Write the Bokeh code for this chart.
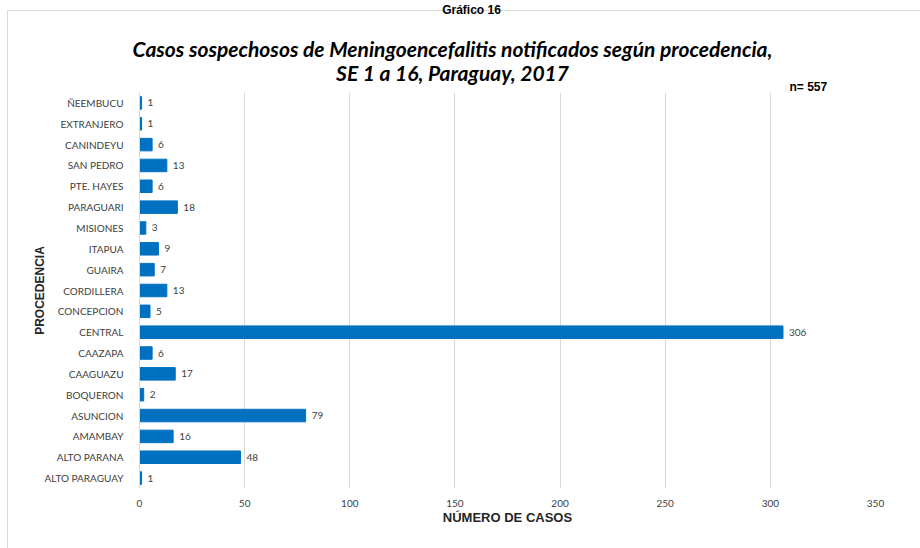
from bokeh.plotting import figure
from bokeh.layouts import column
from bokeh.models import (ColumnDataSource, Label, LabelSet, FactorRange, Range1d, FixedTicker)
from bokeh.core.properties import value
from bokeh.embed import file_html
from bokeh.resources import INLINE

# data (bottom to top)
procedencia = ["ALTO PARAGUAY", "ALTO PARANA", "AMAMBAY", "ASUNCION", "BOQUERON",
               "CAAGUAZU", "CAAZAPA", "CENTRAL", "CONCEPCION", "CORDILLERA", "GUAIRA",
               "ITAPUA", "MISIONES", "PARAGUARI", "PTE. HAYES", "SAN PEDRO", "CANINDEYU",
               "EXTRANJERO", "ÑEEMBUCU"]
casos = [1, 48, 16, 79, 2, 17, 6, 306, 5, 13, 7, 9, 3, 18, 6, 13, 6, 1, 1]
x_ticks = [0, 50, 100, 150, 200, 250, 300, 350]
titulo_1 = "Casos sospechosos de Meningoencefalitis notificados según procedencia,"
titulo_2 = "SE 1 a 16, Paraguay, 2017"
total = "n= 557"

W = 920
HT = 92          # header height
HM = 548 - HT    # main chart height

# ---------- header (titles) ----------
h = figure(width=W, height=HT, output_backend="svg", toolbar_location=None, title=None,
           x_range=Range1d(0, W), y_range=Range1d(HT, 0),
           x_axis_location=None, y_axis_location=None,
           min_border=0, min_border_left=0, min_border_right=0,
           min_border_top=0, min_border_bottom=0)
h.frame_align = False
h.outline_line_color = None
h.background_fill_color = None
h.border_fill_color = None
h.grid.visible = False

tf = dict(text_font="Lato", text_font_style="bold italic", text_font_size="21px",
          text_color="#000000", text_align="center", text_baseline="middle")
h.add_layout(Label(x=452, y=48, text=titulo_1, **tf))
h.add_layout(Label(x=452, y=72, text=titulo_2, **tf))
h.add_layout(Label(x=789, y=86, text=total, text_font="Liberation Sans",
                   text_font_style="bold", text_font_size="12px",
                   text_baseline="middle", text_color="#000000"))
h.add_layout(Label(x=471, y=9, text="Gráfico 16", text_font="Liberation Sans",
                   text_font_style="bold", text_font_size="12px", text_align="center",
                   text_baseline="alphabetic", text_color="#000000"))

# ---------- main chart ----------
src = ColumnDataSource(dict(cat=procedencia, val=casos, lab=[str(v) for v in casos]))

p = figure(width=W, height=HM, output_backend="svg", toolbar_location=None, title=None,
           y_range=FactorRange(*procedencia), x_range=Range1d(0, 350),
           min_border_left=139, min_border_right=45, min_border_top=0, min_border_bottom=60)
p.frame_align = False
p.outline_line_color = None
p.background_fill_color = "white"
p.border_fill_color = None

p.hbar(y="cat", right="val", left=0, height=0.6, source=src, color="#0070C0")
p.add_layout(LabelSet(x="val", y="cat", text="lab", source=src, x_offset=6, y_offset=0,
                      text_baseline="middle", text_font=value("Lato"), text_font_size="10px",
                      text_color="#404040"))

p.xaxis.ticker = FixedTicker(ticks=x_ticks)
p.xaxis.axis_line_color = None
p.xaxis.major_tick_line_color = None
p.xaxis.minor_tick_line_color = None
p.xaxis.major_label_text_font = "Lato"
p.xaxis.major_label_text_font_size = "10px"
p.xaxis.major_label_text_color = "#404040"
p.xaxis.major_label_standoff = 5
p.xaxis.axis_label = "NÚMERO DE CASOS"
p.xaxis.axis_label_text_font = "Liberation Sans"
p.xaxis.axis_label_text_font_style = "bold"
p.xaxis.axis_label_text_font_size = "13px"
p.xaxis.axis_label_text_color = "#262626"
p.xaxis.axis_label_standoff = 0

p.yaxis.axis_line_color = "#d9d9d9"
p.yaxis.major_tick_line_color = None
p.yaxis.minor_tick_line_color = None
p.yaxis.major_label_text_font = "Lato"
p.yaxis.major_label_text_font_size = "10px"
p.yaxis.major_label_text_color = "#404040"
p.yaxis.major_label_standoff = 10
p.yaxis.axis_label = "PROCEDENCIA"
p.yaxis.axis_label_text_font = "Liberation Sans"
p.yaxis.axis_label_text_font_style = "bold"
p.yaxis.axis_label_text_font_size = "12px"
p.yaxis.axis_label_text_color = "#262626"
p.yaxis.axis_label_standoff = -6

p.xgrid.grid_line_color = "#d9d9d9"
p.ygrid.grid_line_color = None

layout = column(h, p, spacing=0, styles={
    "background-image": "linear-gradient(#d9d9d9, #d9d9d9), linear-gradient(#d9d9d9, #d9d9d9)",
    "background-size": "1px 2000px, 2000px 1px",
    "background-position": "7px 10px, 7px 10px",
    "background-repeat": "no-repeat",
})

open("out.html", "w").write(file_html(layout, INLINE))
